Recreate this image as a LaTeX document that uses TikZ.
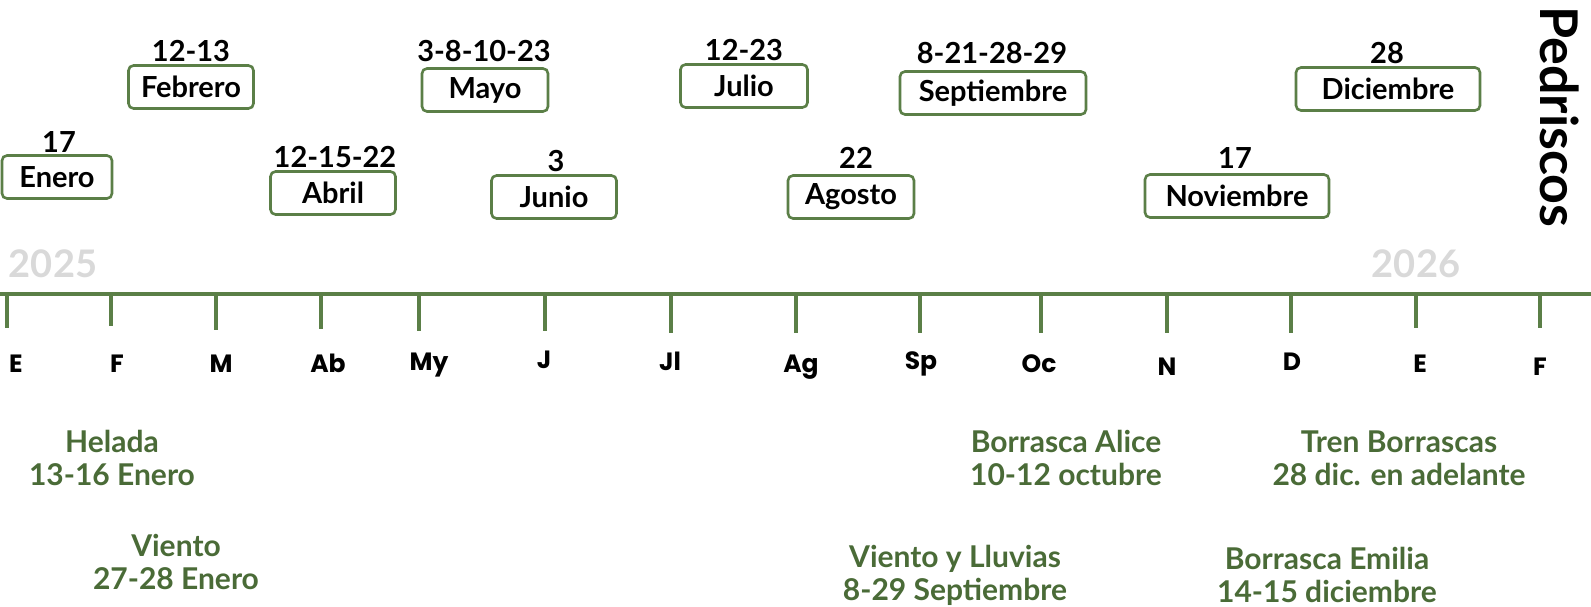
\documentclass[tikz,border=0pt]{standalone}
\usepackage{fontspec}
\setmainfont{Lato}[UprightFont=* Bold]
\newfontfamily\axfont{Poppins}
\definecolor{lineG}{HTML}{5B7F47}
\definecolor{textG}{HTML}{4A6B37}
\definecolor{yearG}{HTML}{D9D9D9}
\begin{document}
\begin{tikzpicture}[x=1pt,y=-1pt,
  mbox/.style={draw=lineG,line width=2.6pt,rounded corners=5pt,minimum height=43pt,inner sep=0pt,font=\fontsize{29}{32}\selectfont,text=black},
  days/.style={font=\fontsize{29}{32}\selectfont,text=black,inner sep=0pt},
  axlab/.style={font=\axfont\bfseries\fontsize{25}{27}\selectfont,text=black,inner sep=0pt},
  ev/.style={font=\fontsize{30}{33}\selectfont,text=textG,align=center,inner sep=0pt},
  year/.style={font=\fontsize{38}{42}\selectfont,text=yearG,inner sep=0pt},
  tick/.style={draw=lineG,line width=3.5pt}]
\useasboundingbox (0,0) rectangle (1591,607);
\fill[white] (0,0) rectangle (1591,607);
% axis
\coordinate (L) at (0,294);
\coordinate (R) at (1591,294);
\draw[lineG,line width=4.5pt] (L) -- (R);
% ticks and labels
\foreach \x/\yb/\lab/\lx/\ly [count=\i] in {
  7/328/E/16/364, 111/326/F/117/364, 216/330/M/221/364, 321/329/Ab/328/363,
  419/331/My/429/365, 545/331/J/544/360, 671/333/Jl/670/361, 796/333/Ag/801/367,
  920/333/Sp/921/364, 1041/333/Oc/1039/364, 1167/333/N/1167/367, 1291/333/D/1292/362,
  1416/328/E/1420/364, 1540/328/F/1540/367}{
  \coordinate (t\i) at (\x,294);
  \coordinate (b\i) at (\x,\yb);
  \draw[tick] (t\i) -- (b\i);
  \node[axlab] (m\i) at (\lx,\ly) {\lab};
}
% years
\node[year] (y1) at (53,264) {2025};
\node[year] (y2) at (1416,264) {2026};
% title
\node[rotate=-90,font=\fontsize{52}{56}\selectfont,inner sep=0pt] (title) at (1560,117) {Pedriscos};
% month boxes
\node[mbox,minimum width=110pt] (ene) at (57,177) {Enero};
\node[days] (dene) at (59,142) {17};
\node[mbox,minimum width=125pt] (feb) at (191,87) {Febrero};
\node[days] (dfeb) at (191,51) {12-13};
\node[mbox,minimum width=125pt] (abr) at (333,193) {Abril};
\node[days] (dabr) at (335,157) {12-15-22};
\node[mbox,minimum width=126pt] (may) at (485,90) {Mayo};
\node[days] (dmay) at (484,51) {3-8-10-23};
\node[mbox,minimum width=125pt] (jun) at (554,197) {Junio};
\node[days] (djun) at (556,161) {3};
\node[mbox,minimum width=127pt] (jul) at (744,86) {Julio};
\node[days] (djul) at (744,50) {12-23};
\node[mbox,minimum width=126pt] (ago) at (851,197) {Agosto};
\node[days] (dago) at (856,158) {22};
\node[mbox,minimum width=186pt] (sep) at (993,93) {Septiembre};
\node[days] (dsep) at (992,53) {8-21-28-29};
\node[mbox,minimum width=184pt] (nov) at (1237,196) {Noviembre};
\node[days] (dnov) at (1235,158) {17};
\node[mbox,minimum width=184pt] (dic) at (1388,89) {Diciembre};
\node[days] (ddic) at (1387,53) {28};
% events
\node[ev] (e1) at (112,458) {Helada\\13-16 Enero};
\node[ev] (e2) at (176,562) {Viento\\27-28 Enero};
\node[ev] (e3) at (1066,458) {Borrasca Alice\\10-12 octubre};
\node[ev] (e4) at (1399,458) {Tren Borrascas\\28 dic. en adelante};
\node[ev] (e5) at (955,575) {Viento y Lluvias\\8-29 Septiembre};
\node[ev] (e6) at (1327,575) {Borrasca Emilia\\14-15 diciembre};
\end{tikzpicture}
\end{document}
